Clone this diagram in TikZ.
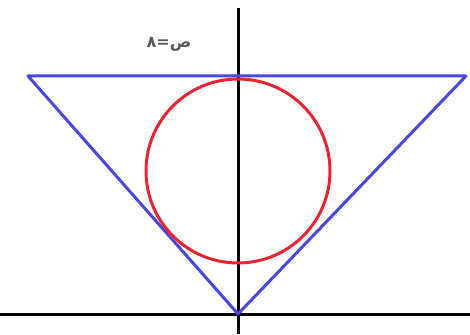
\documentclass[tikz,border=0pt]{standalone}
\usepackage{fontspec}
\newfontfamily\arabicfont[Script=Arabic]{DejaVu Sans}
\TeXXeTstate=1
\definecolor{bleu}{RGB}{72,72,222}
\definecolor{rouge}{RGB}{232,36,52}
\begin{document}
\begin{tikzpicture}[x=1pt, y=-1pt]
  \useasboundingbox (0,0) rectangle (470,334);

  % Les axes
  \coordinate (xg) at (0,314);
  \coordinate (xd) at (470,314);
  \coordinate (yh) at (238,8);
  \coordinate (yb) at (238,334);
  \draw[line width=3pt] (xg) -- (xd);
  \draw[line width=3pt] (yh) -- (yb);

  % Le triangle
  \coordinate (A) at (28,76);
  \coordinate (B) at (466,76);
  \coordinate (C) at (238,314);
  \draw[bleu, line width=3pt, line join=round] (A) -- (B) -- (C) -- cycle;

  % Le cercle
  \coordinate (O) at (238,171);
  \draw[rouge, line width=3pt] (O) circle (92);

  % Le texte
  \node[text=black!65, font=\arabicfont\fontsize{16}{18}\selectfont\bfseries] (lab) at (169,44) {\beginR ص=٨\endR};

\end{tikzpicture}
\end{document}
